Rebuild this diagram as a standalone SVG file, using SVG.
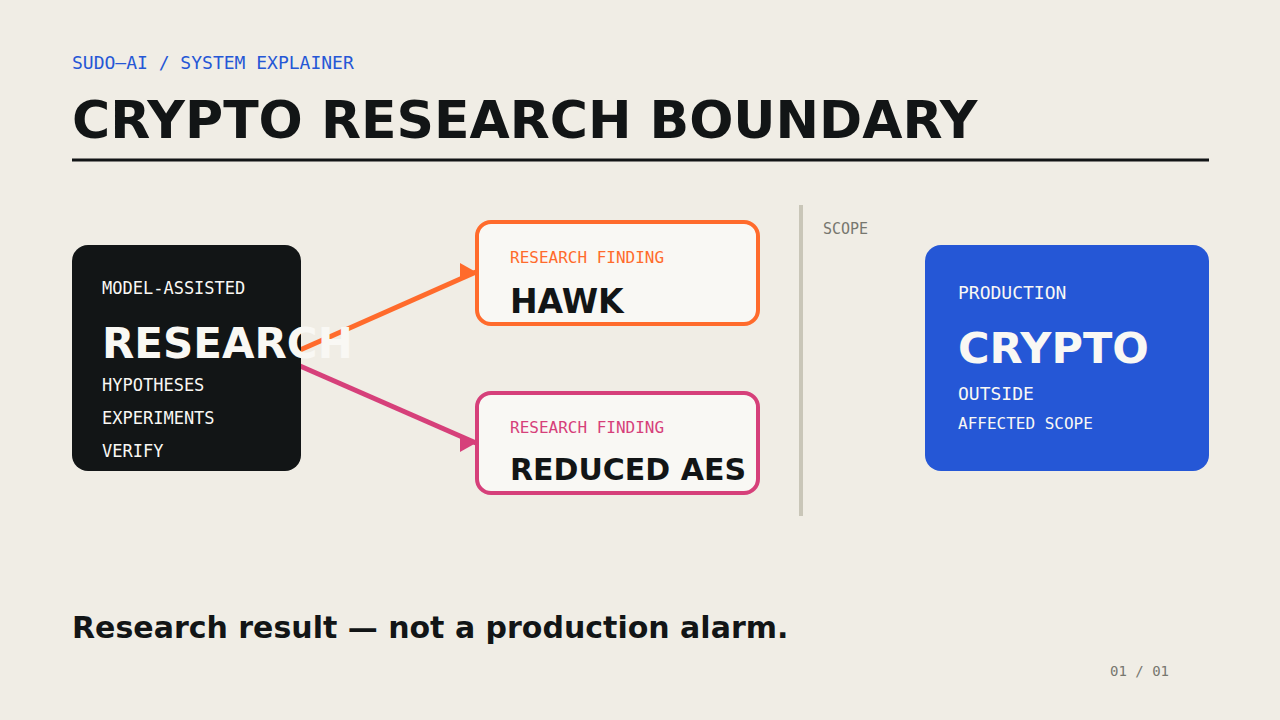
<svg xmlns="http://www.w3.org/2000/svg" width="1280" height="720" viewBox="0 0 1280 720">
<style>
.mono{font-family:"DejaVu Sans Mono","Liberation Mono",monospace}
.sans{font-family:"DejaVu Sans","Liberation Sans",sans-serif;font-weight:bold}
.light{fill:#F9F8F4}
.ink{fill:#121516}
</style>
<defs>
<marker id="ahO" markerUnits="userSpaceOnUse" markerWidth="20" markerHeight="20" refX="16" refY="9" orient="0"><path d="M0,0 L16,9 L0,18 Z" fill="#FF6B2C"/></marker>
<marker id="ahP" markerUnits="userSpaceOnUse" markerWidth="20" markerHeight="20" refX="16" refY="9" orient="0"><path d="M0,0 L16,9 L0,18 Z" fill="#D6407A"/></marker>
</defs>
<rect width="1280" height="720" fill="#F0EDE5"/>
<g id="header">
<text x="72" y="138" class="sans ink" font-size="52">CRYPTO RESEARCH BOUNDARY</text>
<text x="72" y="69" class="mono" font-size="18" fill="#2557D6">SUDO—AI / SYSTEM EXPLAINER</text>
<rect x="72" y="158.5" width="1137" height="3" fill="#121516"/>
</g>
<g id="connectors">
<line x1="300" y1="350" x2="476" y2="272" stroke="#FF6B2C" stroke-width="5" marker-end="url(#ahO)"/>
<line x1="300" y1="366" x2="476" y2="443" stroke="#D6407A" stroke-width="5" marker-end="url(#ahP)"/>
</g>
<g id="node-research">
<rect x="72" y="245" width="229" height="226" rx="16" fill="#121516"/>
<text x="102" y="294" class="mono light" font-size="17">MODEL-ASSISTED</text>
<text x="102" y="358" class="sans light" font-size="42">RESEARCH</text>
<text x="102" y="391" class="mono light" font-size="17">HYPOTHESES</text>
<text x="102" y="424" class="mono light" font-size="17">EXPERIMENTS</text>
<text x="102" y="457" class="mono light" font-size="17">VERIFY</text>
</g>
<g id="node-hawk">
<rect x="477" y="222" width="281" height="102" rx="14" fill="#F9F8F4" stroke="#FF6B2C" stroke-width="4"/>
<text x="510" y="263" class="mono" font-size="16" fill="#FF6B2C">RESEARCH FINDING</text>
<text x="510" y="313" class="sans ink" font-size="33">HAWK</text>
</g>
<g id="node-aes">
<rect x="477" y="393" width="281" height="100" rx="14" fill="#F9F8F4" stroke="#D6407A" stroke-width="4"/>
<text x="510" y="433" class="mono" font-size="16" fill="#D6407A">RESEARCH FINDING</text>
<text x="510" y="480" class="sans ink" font-size="30">REDUCED AES</text>
</g>
<g id="scope">
<rect x="799" y="205" width="4" height="311" fill="#C9C6B8"/>
<text x="823" y="234" class="mono" font-size="15" fill="#77776F">SCOPE</text>
</g>
<g id="node-crypto">
<rect x="925" y="245" width="284" height="226" rx="16" fill="#2557D6"/>
<text x="958" y="299" class="mono light" font-size="18">PRODUCTION</text>
<text x="958" y="363" class="sans light" font-size="43">CRYPTO</text>
<text x="958" y="400" class="mono light" font-size="18">OUTSIDE</text>
<text x="958" y="429" class="mono light" font-size="16">AFFECTED SCOPE</text>
</g>
<g id="footer">
<text x="72" y="638" class="sans ink" font-size="30">Research result — not a production alarm.</text>
<text x="1110" y="676" class="mono" font-size="14" fill="#77776F">01 / 01</text>
</g>
</svg>
